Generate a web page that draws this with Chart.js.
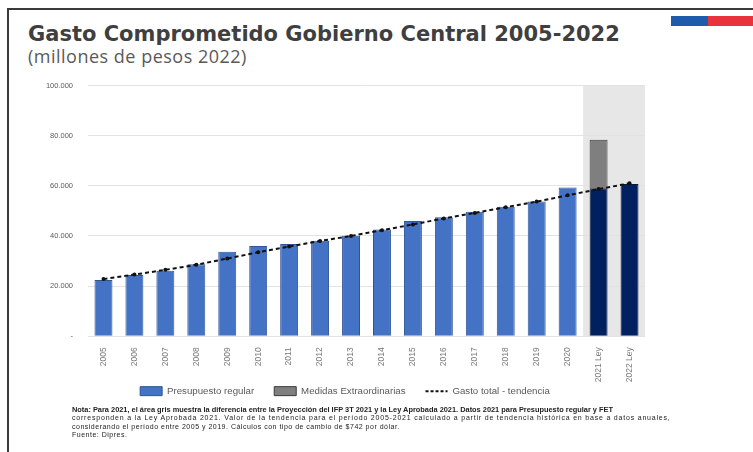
<!DOCTYPE html>
<html>
<head>
<meta charset="utf-8">
<script src="https://cdn.jsdelivr.net/npm/chart.js@4.4.0/dist/chart.umd.min.js"></script>
<style>
  html, body { margin: 0; padding: 0; background: #fff; }
  body { width: 753px; height: 452px; position: relative; overflow: hidden; font-family: "Liberation Sans", Arial, sans-serif; }
  .frame { position: absolute; left: 7px; top: 8px; right: -2px; bottom: -2px; border-top: 2px solid #3a3a3a; border-left: 2px solid #3a3a3a; }
  .flag { position: absolute; top: 16px; left: 671px; height: 10px; width: 82px; }
  .flag .b { position: absolute; left: 0; top: 0; width: 37px; height: 10px; background: #1f5bab; }
  .flag .r { position: absolute; left: 37px; top: 0; width: 45px; height: 10px; background: #e8323c; }
  h1 { position: absolute; left: 28px; top: 22px; margin: 0; font: bold 21px "DejaVu Sans", Verdana, sans-serif; color: #3f3f3f; }
  .sub { position: absolute; left: 28px; top: 44px; margin: 0; font: 18px "Open Sans", sans-serif; color: #595959; letter-spacing: 0.5px; }
  .wrap { position: absolute; left: 0; top: 66px; width: 753px; height: 340px; }
  .note { position: absolute; left: 72px; top: 406px; width: 660px; font: 7px "Liberation Sans", Arial, sans-serif; color: #222; line-height: 8.3px; white-space: nowrap; }
  .note b { font-weight: bold; font-size: 7.4px; }
  .note span { letter-spacing: 0.5px; }
  .note span.l2 { letter-spacing: 0.8px; }
</style>
</head>
<body>
<div class="frame"></div>
<div class="flag"><div class="b"></div><div class="r"></div></div>
<h1>Gasto Comprometido Gobierno Central 2005-2022</h1>
<div class="sub">(millones de pesos 2022)</div>
<div class="wrap"><canvas id="chart"></canvas></div>
<div class="note"><b>Nota: Para 2021, el área gris muestra la diferencia entre la Proyección del IFP 3T 2021 y la Ley Aprobada 2021. Datos 2021 para Presupuesto regular y FET</b><br>
<span class="l2">corresponden a la Ley Aprobada 2021. Valor de la tendencia para el período 2005-2021 calculado a partir de tendencia histórica en base a datos anuales,</span><br>
<span>considerando el período entre 2005 y 2019. Cálculos con tipo de cambio de $742 por dólar.</span><br>
<span>Fuente: Dipres.</span></div>
<script>
const years = ['2005', '2006', '2007', '2008', '2009', '2010', '2011', '2012', '2013',
  '2014', '2015', '2016', '2017', '2018', '2019', '2020', '2021 Ley', '2022 Ley'];
const presupuestoRegular = [22400, 24400, 26100, 28700, 33700, 36000, 36800, 38100, 40100,
  42600, 46000, 47500, 49700, 51700, 53700, 59300, 59000, 60700];
const medidasExtra = [null, null, null, null, null, null, null, null, null,
  null, null, null, null, null, null, null, 19400, null];
const tendencia = [22800, 24600, 26500, 28500, 31000, 33500, 35800, 38000, 40000,
  42300, 44600, 47000, 49200, 51500, 53700, 56200, 58700, 61000];
const yTicks = [0, 20000, 40000, 60000, 80000, 100000];

const regularColors = years.map((y, i) => i >= 16 ? '#002060' : '#4472c4');
const regularBorders = years.map((y, i) => i >= 16 ? '#0d1a3a' : '#2f5597');

// sombreado gris para 2021-2022
const shadePlugin = {
  id: 'shade',
  beforeDraw(chart) {
    const { ctx, chartArea, scales } = chart;
    const x = scales.x;
    const half = (x.getPixelForValue(1) - x.getPixelForValue(0)) / 2;
    const left = x.getPixelForValue(16) - half;
    ctx.save();
    ctx.fillStyle = '#e7e7e7';
    ctx.fillRect(left, chartArea.top, chartArea.right - left, chartArea.bottom - chartArea.top);
    ctx.restore();
  }
};

// las etiquetas rotadas sobresalen del eje: no recortarlas
const noClipPlugin = {
  id: 'noClip',
  afterUpdate(chart) {
    Object.values(chart.scales).forEach(s => { s._computeLabelArea = () => undefined; });
  }
};

const chart = new Chart(document.getElementById('chart').getContext('2d'), {
  type: 'bar',
  data: {
    labels: years,
    datasets: [{
      label: 'Presupuesto regular',
      data: presupuestoRegular,
      backgroundColor: regularColors,
      borderColor: regularBorders,
      borderWidth: 1,
      stack: 'gasto',
      order: 2
    }, {
      label: 'Medidas Extraordinarias',
      data: medidasExtra,
      backgroundColor: '#7f7f7f',
      borderColor: '#3a3a3a',
      borderWidth: 1,
      stack: 'gasto',
      order: 2
    }, {
      type: 'line',
      label: 'Gasto total - tendencia',
      data: tendencia,
      borderColor: '#111',
      backgroundColor: '#111',
      borderWidth: 2,
      borderDash: [4, 3],
      pointRadius: 2,
      pointBorderWidth: 0,
      stack: 'trend',
      order: 1
    }]
  },
  options: {
    responsive: true,
    maintainAspectRatio: false,
    animation: false,
    layout: { padding: { left: 45, right: 108, top: 0, bottom: 0 } },
    datasets: { bar: { categoryPercentage: 1, barPercentage: 0.58 } },
    scales: {
      x: {
        stacked: true,
        grid: { display: false },
        border: { display: false },
        ticks: {
          minRotation: 90, maxRotation: 90, autoSkip: false,
          color: '#7a7a7a', font: { size: 8.5, family: 'Liberation Sans' }
        },
        afterFit(scale) { scale.height = 30; }
      },
      y: {
        stacked: true,
        min: 0, max: 100000,
        afterBuildTicks(scale) { scale.ticks = yTicks.map(v => ({ value: v })); },
        grid: { color: '#e3e3e3', lineWidth: 1, drawTicks: false },
        border: { display: false },
        ticks: {
          padding: 15,
          color: '#595959',
          font: { size: 7.5, family: 'Liberation Sans' },
          callback: v => v === 0 ? '-' : v.toLocaleString('de-DE')
        },
        afterFit(scale) { scale.width = 43; }
      }
    },
    plugins: {
      legend: {
        position: 'bottom',
        labels: {
          usePointStyle: true,
          pointStyleWidth: 22,
          boxHeight: 9,
          padding: 20,
          color: '#595959',
          font: { size: 9.7, family: 'Liberation Sans' },
          sort: (a, b) => a.datasetIndex - b.datasetIndex,
          generateLabels(chart) {
            const items = Chart.defaults.plugins.legend.labels.generateLabels(chart);
            items.forEach(it => {
              const i = it.datasetIndex;
              if (i === 0) { it.fillStyle = '#4472c4'; it.strokeStyle = '#2f5597'; it.pointStyle = 'rect'; }
              if (i === 1) { it.fillStyle = '#7f7f7f'; it.strokeStyle = '#3a3a3a'; it.pointStyle = 'rect'; }
              if (i === 2) { it.pointStyle = 'line'; it.lineWidth = 2; it.lineDash = [3, 2]; it.strokeStyle = '#111'; }
            });
            return items;
          }
        }
      },
      tooltip: { enabled: false }
    }
  },
  plugins: [shadePlugin, noClipPlugin]
});
</script>
</body>
</html>
